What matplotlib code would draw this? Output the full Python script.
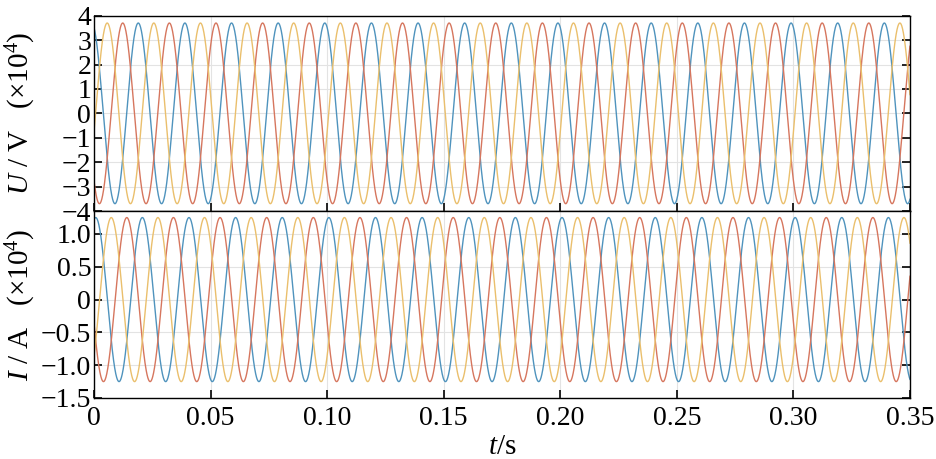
import numpy as np
import matplotlib
matplotlib.use("Agg")
import matplotlib.pyplot as plt

plt.rcParams['font.family'] = ['Liberation Serif', 'DejaVu Serif']
plt.rcParams['mathtext.fontset'] = 'custom'
plt.rcParams['mathtext.rm'] = 'Liberation Serif'
plt.rcParams['mathtext.it'] = 'Liberation Serif:italic'

# three-phase waveform parameters
freq = 50.0                      # Hz
t_end = 0.35                     # s
U_amp = 3.7                      # x10^4 V
I_amp = 1.25                     # x10^4 A
U_phase0 = 18.0                  # deg, phase A voltage
I_phase0 = -13.5                 # deg, phase A current
phase_shift = [0.0, 120.0, -120.0]   # A (blue), B (red), C (yellow)
colors = ['#4f93bd', '#d6765e', '#eabf6c']

U_ticks = [4, 3, 2, 1, 0, -1, -2, -3, -4]
I_ticks = [1.0, 0.5, 0, -0.5, -1.0, -1.5]
I_tick_labels = ['1.0', '0.5', '0', '\u22120.5', '\u22121.0', '\u22121.5']
t_ticks = [0, 0.05, 0.10, 0.15, 0.20, 0.25, 0.30, 0.35]
t_tick_labels = ['0', '0.05', '0.10', '0.15', '0.20', '0.25', '0.30', '0.35']

t = np.linspace(0, t_end, 7001)
w = 2 * np.pi * freq

fig = plt.figure(figsize=(9.36, 4.59), dpi=100)
ax1 = fig.add_axes([0.1004, 0.5403, 0.8718, 0.4255])
ax2 = fig.add_axes([0.1004, 0.1329, 0.8718, 0.4074])

for ph, c in zip(phase_shift, colors):
    ax1.plot(t, U_amp * np.cos(w * t + np.deg2rad(U_phase0 + ph)), color=c, lw=1.0)
    ax2.plot(t, I_amp * np.cos(w * t + np.deg2rad(I_phase0 + ph)), color=c, lw=1.0)

ax1.set_ylim(-4, 4)
ax1.set_yticks(U_ticks)
ax2.set_ylim(-1.5, 1.35)
ax2.set_yticks(I_ticks)
ax2.set_yticklabels(I_tick_labels)

for ax in (ax1, ax2):
    ax.set_xlim(0, t_end)
    ax.set_xticks(t_ticks)
    ax.grid(True, color='#e3e3e3', lw=0.8)
    ax.set_axisbelow(True)
    ax.tick_params(direction='in', length=6, width=1.2, labelsize=20,
                   left=True, right=True, bottom=True, top=False, pad=2)
    ax.tick_params(axis='x', pad=6)
    for s in ax.spines.values():
        s.set_linewidth(1.0)

ax1.set_xticklabels([])
ax2.set_xticklabels(t_tick_labels)

ax1.set_ylabel(r'$U$ / V   (×10$^4$)', fontsize=21)
ax2.set_ylabel(r'$I$ / A   (×10$^4$)', fontsize=21)
ax1.yaxis.set_label_coords(-0.069, 0.5)
ax2.yaxis.set_label_coords(-0.069, 0.5)
ax2.set_xlabel(r'$t$/s', fontsize=21, labelpad=2)

fig.savefig('out.png', dpi=100)
